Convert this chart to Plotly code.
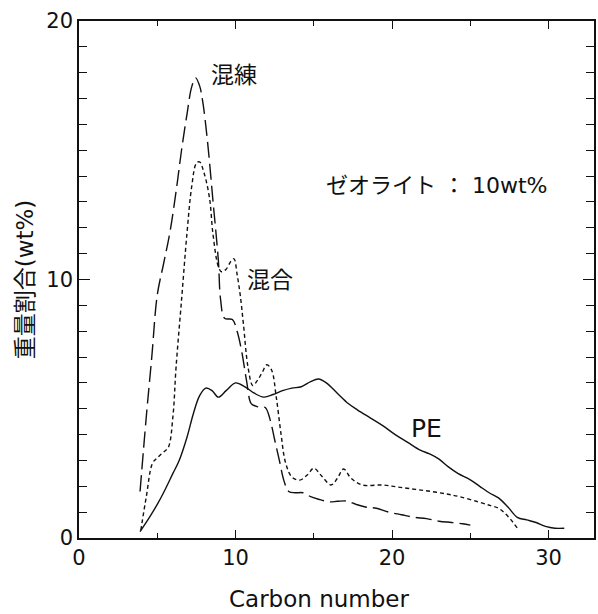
import plotly.graph_objects as go

# Carbon number distribution of the cracked oil (wt%)
pe_x = [3.9, 4.5, 5.0, 5.4, 6.0, 6.4, 6.9, 7.3, 7.7, 8.1, 8.5, 8.9, 9.4, 10.0, 10.6,
        11.2, 11.8, 12.4, 13.0, 13.6, 14.2, 14.8, 15.3, 15.8, 16.5, 17.2, 17.8, 18.6,
        19.4, 20.2, 21.0, 21.8, 22.4, 23.0, 23.6, 24.2, 25.0, 25.6, 26.2, 26.8, 27.4,
        28.0, 28.6, 29.2, 29.8, 30.4, 31.0]
pe_y = [0.25, 0.8, 1.3, 1.75, 2.5, 3.0, 3.9, 4.8, 5.5, 5.8, 5.7, 5.45, 5.7, 6.0, 5.85,
        5.6, 5.45, 5.55, 5.7, 5.8, 5.85, 6.05, 6.15, 6.0, 5.6, 5.2, 4.95, 4.65,
        4.35, 4.0, 3.7, 3.4, 3.25, 3.05, 2.75, 2.5, 2.25, 2.0, 1.75, 1.55, 1.2,
        0.8, 0.7, 0.6, 0.45, 0.38, 0.38]

kneaded_x = [3.9, 4.3, 4.65, 5.0, 5.4, 5.8, 6.2, 6.55, 6.9, 7.2, 7.45, 7.7, 7.9, 8.2,
             8.55, 8.9, 9.05, 9.3, 9.8, 10.1, 10.4, 10.7, 11.0, 11.3, 11.6, 11.9, 12.2,
             12.5, 12.8, 13.1, 13.4, 13.8, 14.3, 14.8, 15.3, 16.0, 16.5, 17.1, 17.7,
             18.3, 19.0, 19.8, 20.6, 21.4, 22.2, 23.0, 23.8, 24.5, 25.0]
kneaded_y = [1.8, 4.7, 7.0, 9.4, 10.6, 11.8, 13.4, 15.0, 16.4, 17.45, 17.8, 17.5, 16.9,
             15.4, 13.1, 10.75, 9.2, 8.5, 8.45, 8.0, 7.2, 6.1, 5.2, 5.1, 5.05, 5.05,
             4.6, 3.8, 3.0, 2.2, 1.8, 1.75, 1.75, 1.6, 1.5, 1.4, 1.42, 1.43, 1.3,
             1.2, 1.15, 1.0, 0.9, 0.8, 0.75, 0.65, 0.6, 0.55, 0.5]

mixed_x = [3.95, 4.3, 4.7, 5.0, 5.35, 5.7, 6.0, 6.2, 6.55, 6.9, 7.2, 7.5, 7.7, 8.0,
           8.35, 8.55, 8.9, 9.1, 9.4, 9.7, 9.9, 10.1, 10.3, 10.5, 10.8, 11.1, 11.4,
           11.7, 12.0, 12.3, 12.6, 12.9, 13.2, 13.6, 14.1, 14.6, 15.0, 15.5, 16.1,
           16.5, 16.9, 17.4, 18.1, 19.4, 20.4, 21.5, 22.5, 23.5, 24.3, 25.5, 26.3,
           26.8, 27.2, 27.6, 28.0]
mixed_y = [0.3, 1.6, 2.9, 3.1, 3.3, 3.5, 4.7, 6.6, 9.2, 11.8, 13.6, 14.5, 14.55, 14.1,
           13.1, 11.8, 10.5, 10.3, 10.4, 10.7, 10.8, 10.2, 9.4, 8.3, 6.6, 5.9, 6.1,
           6.4, 6.7, 6.5, 5.46, 4.05, 2.9, 2.36, 2.24, 2.45, 2.7, 2.4, 2.05,
           2.3, 2.67, 2.3, 2.05, 2.05, 1.97, 1.88, 1.8, 1.7, 1.6, 1.4, 1.25,
           1.15, 0.96, 0.7, 0.38]

labels = {"kneaded": "混練", "mixed": "混合", "pe": "PE", "note": "ゼオライト ： 10wt%"}
x_title = "Carbon number"
y_title = "重量割合(wt%)"

FONT = "DejaVu Sans, Noto Sans CJK JP, sans-serif"
INK = "#111111"

fig = go.Figure()
fig.add_trace(go.Scatter(x=pe_x, y=pe_y, mode="lines",
                         line=dict(color=INK, width=1.4, shape="spline", smoothing=1.0)))
fig.add_trace(go.Scatter(x=kneaded_x, y=kneaded_y, mode="lines",
                         line=dict(color=INK, width=1.4, dash="16px,6px",
                                   shape="spline", smoothing=1.0)))
fig.add_trace(go.Scatter(x=mixed_x, y=mixed_y, mode="lines",
                         line=dict(color=INK, width=1.4, dash="4px,3px",
                                   shape="spline", smoothing=1.0)))

ann_font = dict(family=FONT, size=23, color=INK)
fig.add_annotation(x=9.9, y=17.9, text=labels["kneaded"], showarrow=False, font=ann_font)
fig.add_annotation(x=12.2, y=9.98, text=labels["mixed"], showarrow=False, font=ann_font)
fig.add_annotation(x=22.2, y=4.25, text=labels["pe"], showarrow=False,
                   font=dict(family=FONT, size=25, color=INK))
fig.add_annotation(x=22.9, y=13.65, text=labels["note"], showarrow=False,
                   font=dict(family=FONT, size=22, color=INK))

# x-axis title, sitting a little left of the plot centre
fig.add_annotation(x=0.466, y=-0.118, xref="paper", yref="paper", text=x_title,
                   showarrow=False, yanchor="middle",
                   font=dict(family=FONT, size=23, color=INK))

axis_common = dict(
    showgrid=False, zeroline=False, showline=True, linecolor=INK, linewidth=1.5,
    mirror="ticks", ticks="inside", tickcolor=INK, tickwidth=1.2,
    tickfont=dict(family=FONT, size=21, color=INK),
)

fig.update_xaxes(range=[0, 32.9], dtick=10, tick0=0, ticklen=8,
                 minor=dict(dtick=5, ticks="inside", ticklen=5, tickcolor=INK),
                 **axis_common)
fig.update_yaxes(range=[0, 20], dtick=10, tick0=0, ticklen=11,
                 minor=dict(dtick=1, ticks="inside", ticklen=8, tickcolor=INK),
                 title=dict(text=y_title, standoff=6,
                            font=dict(family=FONT, size=23, color=INK)),
                 **axis_common)

fig.update_layout(
    width=598, height=614, showlegend=False,
    margin=dict(l=79, r=2, t=21, b=76),
    plot_bgcolor="white", paper_bgcolor="white",
)

fig.write_html("out.html")
